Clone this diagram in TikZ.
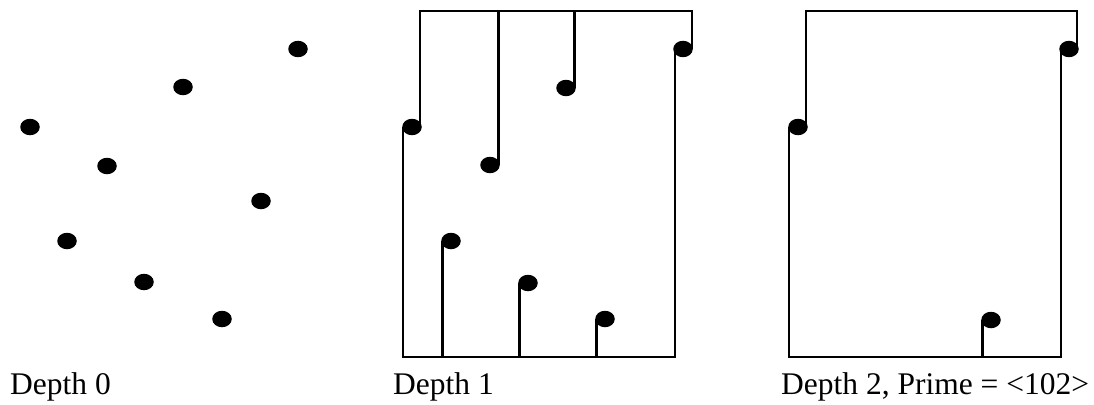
\documentclass[tikz,border=0pt]{standalone}
\usepackage{fontspec}
\setmainfont{Liberation Serif}
\usetikzlibrary{shapes.geometric}
\begin{document}
\begin{tikzpicture}[x=1pt,y=-1pt,
  dot/.style={ellipse,fill=black,draw=none,inner sep=0pt,minimum width=19.5pt,minimum height=16.5pt},
  wire/.style={line width=2.8pt,line join=miter,line cap=butt},
  lbl/.style={anchor=base west,inner sep=0pt,font=\fontsize{31.5}{36}\selectfont}]
\useasboundingbox (0,0) rectangle (1094,404);
% Depth 0
\node[dot] (a1) at (30,127) {};
\node[dot] (a2) at (107,166) {};
\node[dot] (a3) at (183,87) {};
\node[dot] (a4) at (298,49) {};
\node[dot] (a5) at (261,201) {};
\node[dot] (a6) at (67,241) {};
\node[dot] (a7) at (144,282) {};
\node[dot] (a8) at (222,319) {};
% Depth 1
\coordinate (TL1) at (420,11);
\coordinate (TR1) at (692,11);
\coordinate (BL1) at (403,357);
\coordinate (BR1) at (675,357);
\node[dot] (b1) at (412,127) {};
\node[dot] (b2) at (490,165) {};
\node[dot] (b3) at (566,88) {};
\node[dot] (b4) at (683,49) {};
\node[dot] (b6) at (451,241) {};
\node[dot] (b7) at (528,283) {};
\node[dot] (b8) at (605,319) {};
\draw[wire] (b1.center -| TL1) -- (TL1) -- (TR1) -- (b4.center -| TR1);
\draw[wire] (b4.center -| BR1) -- (BR1) -- (BL1) -- (b1.center -| BL1);
\draw[wire] ([xshift=8.5pt]b2.center) -- ([xshift=8.5pt]b2.center |- TL1);
\draw[wire] ([xshift=8.5pt]b3.center) -- ([xshift=8.5pt]b3.center |- TL1);
\draw[wire] ([xshift=-8.5pt]b6.center) -- ([xshift=-8.5pt]b6.center |- BL1);
\draw[wire] ([xshift=-8.5pt]b7.center) -- ([xshift=-8.5pt]b7.center |- BL1);
\draw[wire] ([xshift=-8.5pt]b8.center) -- ([xshift=-8.5pt]b8.center |- BL1);
% Depth 2
\coordinate (TL2) at (806,11);
\coordinate (TR2) at (1077,11);
\coordinate (BL2) at (789,357);
\coordinate (BR2) at (1061,357);
\node[dot] (c1) at (798,127) {};
\node[dot] (c4) at (1069,49) {};
\node[dot] (c8) at (991,320) {};
\draw[wire] (c1.center -| TL2) -- (TL2) -- (TR2) -- (c4.center -| TR2);
\draw[wire] (c4.center -| BR2) -- (BR2) -- (BL2) -- (c1.center -| BL2);
\draw[wire] ([xshift=-8.5pt]c8.center) -- ([xshift=-8.5pt]c8.center |- BL2);
% Labels
\node[lbl] (l0) at (10,394) {Depth 0};
\node[lbl] (l1) at (393,394) {Depth 1};
\node[lbl] (l2) at (781,394) {Depth 2, Prime = <102>};
\end{tikzpicture}
\end{document}
